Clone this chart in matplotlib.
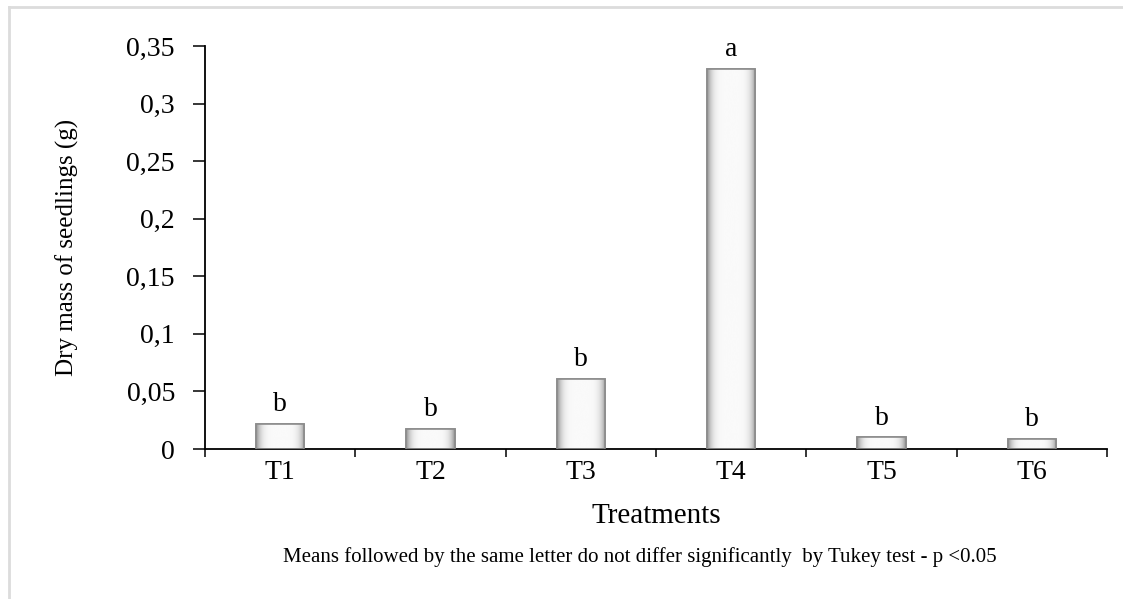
import numpy as np
import matplotlib
matplotlib.use('Agg')
from matplotlib import pyplot as plt
from matplotlib.ticker import FuncFormatter, FixedLocator
from matplotlib.lines import Line2D

treatments = ['T1', 'T2', 'T3', 'T4', 'T5', 'T6']
dry_mass = [0.022, 0.017, 0.061, 0.330, 0.010, 0.009]
letters = ['b', 'b', 'b', 'a', 'b', 'b']
yticks = [0, 0.05, 0.1, 0.15, 0.2, 0.25, 0.3, 0.35]

plt.rcParams['font.family'] = ['Liberation Serif', 'DejaVu Serif']

fig = plt.figure(figsize=(11.23, 5.99), dpi=100)
ax = fig.add_axes([0.1825, 0.2504, 0.8033, 0.6728])

x = np.arange(len(treatments))
bars = ax.bar(x, dry_mass, width=0.32, color='#f4f4f4', edgecolor='#8c8c8c', linewidth=1.2, zorder=2)

# shaded look of the bars: gray at the sides, white in the middle
u = np.linspace(-1, 1, 128)
grad = (0.98 - 0.42 * np.abs(u) ** 5)[None, :]
for b in bars:
    im = ax.imshow(grad, cmap='gray', vmin=0, vmax=1, aspect='auto', zorder=2.5,
                   extent=[b.get_x(), b.get_x() + b.get_width(), 0, b.get_height()],
                   interpolation='bicubic')
    im.set_clip_path(b)
    ax.add_patch(plt.Rectangle((b.get_x(), 0), b.get_width(), b.get_height(),
                               fill=False, edgecolor='#8c8c8c', linewidth=1.2, zorder=3))

for xi, v, l in zip(x, dry_mass, letters):
    ax.annotate(l, (xi, v), xytext=(0, 5), textcoords='offset points',
                ha='center', va='bottom', fontsize=20)

ax.set_xlim(-0.5, len(treatments) - 0.5)
ax.set_ylim(0, 0.35)
ax.set_yticks(yticks)
ax.yaxis.set_major_formatter(FuncFormatter(lambda v, p: ('%g' % v).replace('.', ',')))
ax.set_xticks(x)
ax.set_xticklabels(treatments)
ax.xaxis.set_minor_locator(FixedLocator(np.arange(-0.5, len(treatments), 1.0)))
ax.tick_params(axis='x', which='major', length=0, pad=8, labelsize=20)
ax.tick_params(axis='x', which='minor', length=6, width=1.1, direction='out')
ax.tick_params(axis='y', length=8.6, width=1.1, pad=13, labelsize=20)

for s in ['top', 'right']:
    ax.spines[s].set_visible(False)
for s in ['left', 'bottom']:
    ax.spines[s].set_linewidth(1.3)

ax.set_ylabel('Dry mass of seedlings (g)', fontsize=18, labelpad=34)
ax.set_xlabel('Treatments', fontsize=21, labelpad=13)

fig.text(0.570, 0.07, 'Means followed by the same letter do not differ significantly  by Tukey test - p <0.05',
         ha='center', va='center', fontsize=15)

# light frame at the top and left
fig.add_artist(Line2D([0.008, 1], [0.989, 0.989], color='#dcdcdc', linewidth=2))
fig.add_artist(Line2D([0.008, 0.008], [0, 0.989], color='#dcdcdc', linewidth=2))

fig.savefig('out.png', dpi=100)
